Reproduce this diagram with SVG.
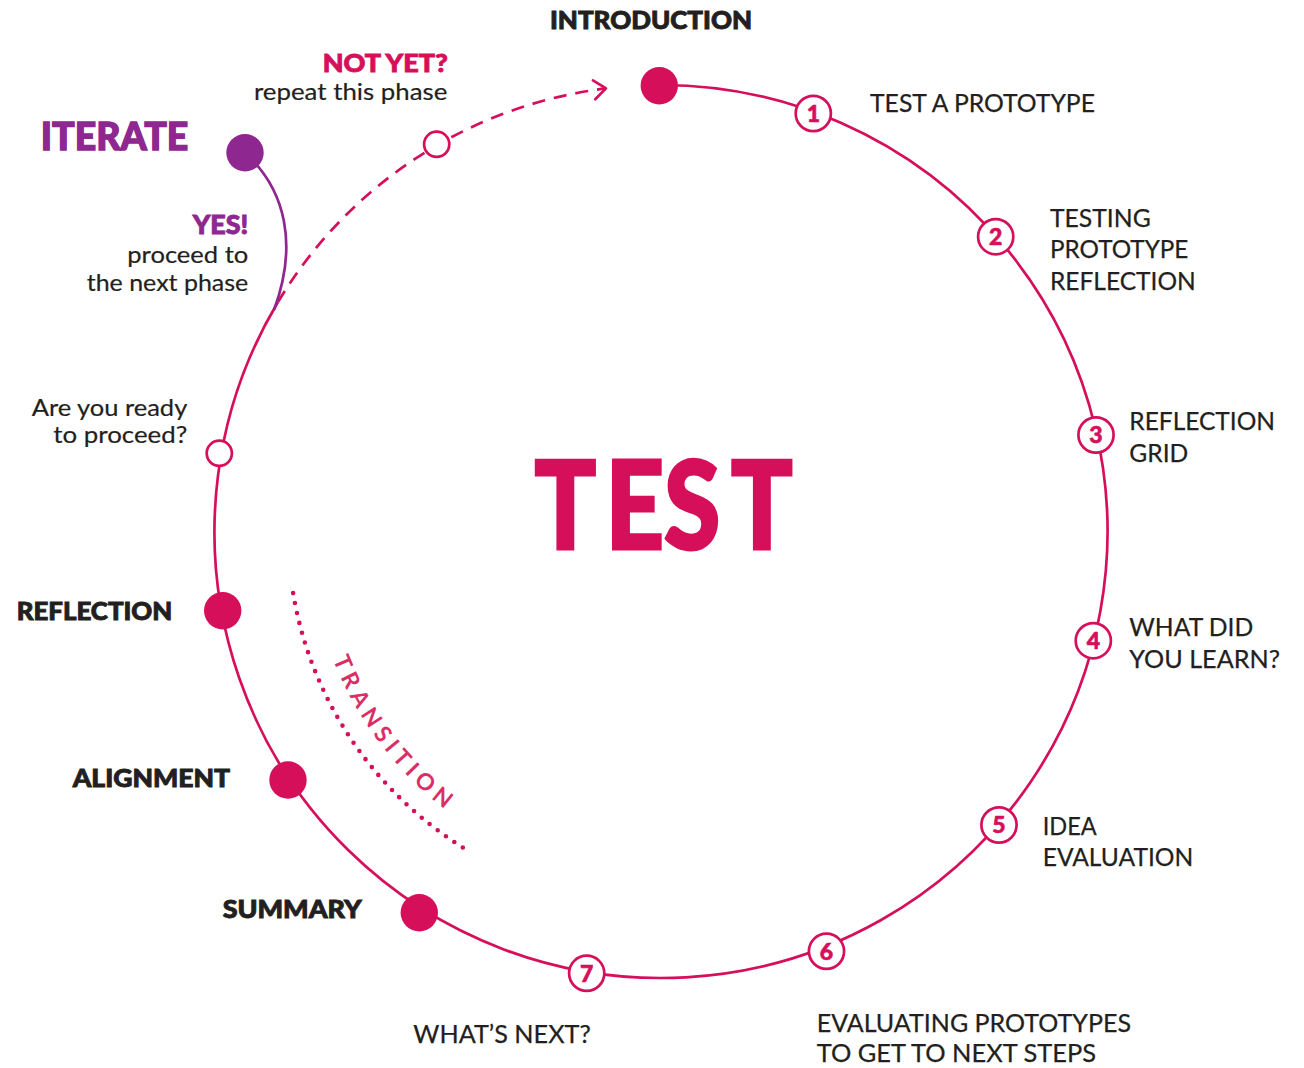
<svg xmlns="http://www.w3.org/2000/svg" width="1304" height="1068" viewBox="0 0 1304 1068">
  <style>
    .ring { fill: none; stroke: #D60F5B; stroke-width: 2.7; }
    .dash { fill: none; stroke: #D60F5B; stroke-width: 2.7; stroke-dasharray: 13 9; }
    .dots { fill: none; stroke: #D60F5B; stroke-width: 4.6; stroke-linecap: round; stroke-dasharray: 0 10.16; }
    .purple-line { fill: none; stroke: #8E278F; stroke-width: 2.7; }
    .dot { fill: #D60F5B; }
    .pdot { fill: #8E278F; }
    .open { fill: #fff; stroke: #D60F5B; stroke-width: 2.7; }
    .num { fill: #D60F5B; stroke: #D60F5B; stroke-width: 0.6; font-family: "Lato Black", Lato, "Liberation Sans", sans-serif; font-weight: 900; font-size: 23px; text-anchor: middle; }
    .head { fill: #231F20; stroke: #231F20; stroke-width: 0.9; font-family: "Lato Black", Lato, "Liberation Sans", sans-serif; font-weight: 900; font-size: 25px; }
    .label { fill: #231F20; stroke: #231F20; stroke-width: 0.25; font-family: Lato, "Liberation Sans", sans-serif; font-weight: 400; font-size: 25.5px; }
    .small { fill: #231F20; stroke: #231F20; stroke-width: 0.2; font-family: Lato, "Liberation Sans", sans-serif; font-weight: 400; font-size: 23.5px; }
    .mag { fill: #D60F5B; stroke: #D60F5B; }
    .pur { fill: #8E278F; stroke: #8E278F; }
    .title { fill: #D60F5B; stroke: #D60F5B; stroke-width: 3; font-family: "Lato Black", Lato, "Liberation Sans", sans-serif; font-weight: 900; font-size: 123px; }
    .trans { fill: #DA2F66; font-family: Lato, "Liberation Sans", sans-serif; font-weight: 700; font-size: 23px; letter-spacing: 5.6px; }
  </style>
  <defs>
    <marker id="chev" markerUnits="userSpaceOnUse" markerWidth="20" markerHeight="24" viewBox="0 0 20 24" refX="14" refY="12" orient="auto">
      <path d="M2,2.5 L14,12 L2,21.5" fill="none" stroke="#D60F5B" stroke-width="2.7" stroke-linecap="round" stroke-linejoin="round"/>
    </marker>
    <path id="transArc" d="M 326.2,640.3 A 352 352 0 0 0 485,836.3" fill="none"/>
  </defs>

  <g id="connectors">
    <path id="main-ring" class="ring" d="M 661,85 A 446.5 446.5 0 1 1 278,302"/>
    <path id="not-yet-path" class="dash" d="M 278,302 A 446.5 446.5 0 0 1 606,88.4" marker-end="url(#chev)"/>
    <path id="yes-path" class="purple-line" d="M 245,152.7 C 286,190 298,245 274,310"/>
    <path id="transition-dots" class="dots" d="M 293.1,593.1 A 373 373 0 0 0 462.8,847.5"/>
  </g>

  <g id="title">
    <text class="title" transform="matrix(0.83 0 0 1 0 0)" x="644 729.5 800 880.7" y="549.3">TEST</text>
  </g>

  <g id="transition-label">
    <text class="trans"><textPath href="#transArc" startOffset="20">TRANSITION</textPath></text>
  </g>

  <g id="introduction">
    <circle class="dot" cx="659.3" cy="85.7" r="18.7"/>
    <text class="head" x="550" y="29.3" textLength="202" lengthAdjust="spacingAndGlyphs">INTRODUCTION</text>
  </g>

  <g id="step-1">
    <circle class="open" cx="813.3" cy="113.5" r="17.6"/>
    <text class="num" x="813.3" y="121.8">1</text>
    <text class="label" x="870" y="111.7" textLength="225" lengthAdjust="spacingAndGlyphs">TEST A PROTOTYPE</text>
  </g>

  <g id="step-2">
    <circle class="open" cx="995.7" cy="236.7" r="17.6"/>
    <text class="num" x="995.7" y="245">2</text>
    <text class="label" x="1050" y="226.7" textLength="100.7" lengthAdjust="spacingAndGlyphs">TESTING</text>
    <text class="label" x="1050" y="258.3" textLength="138.3" lengthAdjust="spacingAndGlyphs">PROTOTYPE</text>
    <text class="label" x="1050" y="290" textLength="145.7" lengthAdjust="spacingAndGlyphs">REFLECTION</text>
  </g>

  <g id="step-3">
    <circle class="open" cx="1096" cy="435" r="17.6"/>
    <text class="num" x="1096" y="443.3">3</text>
    <text class="label" x="1129.3" y="430" textLength="145.7" lengthAdjust="spacingAndGlyphs">REFLECTION</text>
    <text class="label" x="1129.3" y="461.7" textLength="59" lengthAdjust="spacingAndGlyphs">GRID</text>
  </g>

  <g id="step-4">
    <circle class="open" cx="1093.3" cy="640.7" r="17.6"/>
    <text class="num" x="1093.3" y="649">4</text>
    <text class="label" x="1129.3" y="636" textLength="124" lengthAdjust="spacingAndGlyphs">WHAT DID</text>
    <text class="label" x="1129.3" y="668.3" textLength="150.7" lengthAdjust="spacingAndGlyphs">YOU LEARN?</text>
  </g>

  <g id="step-5">
    <circle class="open" cx="999" cy="825" r="17.6"/>
    <text class="num" x="999" y="833.3">5</text>
    <text class="label" x="1042.7" y="835" textLength="54" lengthAdjust="spacingAndGlyphs">IDEA</text>
    <text class="label" x="1042.7" y="866" textLength="150.6" lengthAdjust="spacingAndGlyphs">EVALUATION</text>
  </g>

  <g id="step-6">
    <circle class="open" cx="826.5" cy="951.3" r="17.6"/>
    <text class="num" x="826.5" y="959.6">6</text>
    <text class="label" x="816.7" y="1031.7" textLength="314.3" lengthAdjust="spacingAndGlyphs">EVALUATING PROTOTYPES</text>
    <text class="label" x="816.7" y="1061.7" textLength="279.3" lengthAdjust="spacingAndGlyphs">TO GET TO NEXT STEPS</text>
  </g>

  <g id="step-7">
    <circle class="open" cx="586.7" cy="973.3" r="17.6"/>
    <text class="num" x="586.7" y="981.6">7</text>
    <text class="label" x="413.3" y="1043.3" textLength="177.4" lengthAdjust="spacingAndGlyphs">WHAT’S NEXT?</text>
  </g>

  <g id="summary">
    <circle class="dot" cx="419.3" cy="912.7" r="18.7"/>
    <text class="head" x="222.7" y="917.7" textLength="139" lengthAdjust="spacingAndGlyphs">SUMMARY</text>
  </g>

  <g id="alignment">
    <circle class="dot" cx="288" cy="780" r="18.7"/>
    <text class="head" x="72.7" y="786.7" textLength="157.3" lengthAdjust="spacingAndGlyphs">ALIGNMENT</text>
  </g>

  <g id="reflection">
    <circle class="dot" cx="222.7" cy="610.7" r="18.7"/>
    <text class="head" x="16.7" y="620" textLength="155.6" lengthAdjust="spacingAndGlyphs">REFLECTION</text>
  </g>

  <g id="ready-check">
    <circle class="open" cx="219.3" cy="453.3" r="12.6"/>
    <text class="small" x="31.7" y="415.7" textLength="155.6" lengthAdjust="spacingAndGlyphs">Are you ready</text>
    <text class="small" x="53.3" y="443.3" textLength="134" lengthAdjust="spacingAndGlyphs">to proceed?</text>
  </g>

  <g id="iterate">
    <circle class="pdot" cx="245" cy="152.7" r="18.7"/>
    <text class="head pur" x="40.7" y="150" style="font-size:38px;stroke-width:1.3" textLength="147.6" lengthAdjust="spacingAndGlyphs">ITERATE</text>
    <text class="head pur" x="192.7" y="234.3" style="font-size:26px" textLength="55.6" lengthAdjust="spacingAndGlyphs">YES!</text>
    <text class="small" x="127.3" y="263.3" textLength="121" lengthAdjust="spacingAndGlyphs">proceed to</text>
    <text class="small" x="86.7" y="290.7" textLength="161.6" lengthAdjust="spacingAndGlyphs">the next phase</text>
  </g>

  <g id="not-yet">
    <circle class="open" cx="436.7" cy="144.3" r="12.6"/>
    <text class="head mag" x="322.7" y="72.3" style="font-size:25.5px" textLength="125" lengthAdjust="spacingAndGlyphs">NOT YET?</text>
    <text class="small" x="254" y="100" style="font-size:24px" textLength="193.3" lengthAdjust="spacingAndGlyphs">repeat this phase</text>
  </g>
</svg>
